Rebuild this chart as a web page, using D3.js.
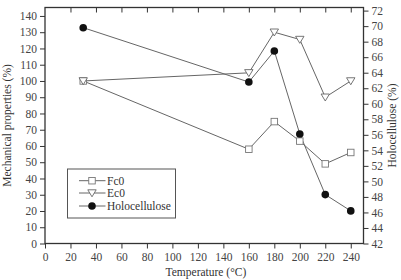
<!DOCTYPE html>
<html><head><meta charset="utf-8">
<script src="https://cdn.jsdelivr.net/npm/d3@7"></script>
<style>body{margin:0;background:#fff}svg{display:block}text{font-family:"Liberation Serif","Times New Roman",serif;fill:#333}</style>
</head><body>
<svg id="c" width="401" height="280"></svg>
<script>
const temps = [30, 160, 180, 200, 220, 240];
const fc0 = [100, 58, 75, 63, 49, 56];
const ec0 = [100, 105, 130, 125.5, 90, 100];
const holo = [69.8, 62.8, 66.8, 56.1, 48.3, 46.2];
const xTicks = [0,20,40,60,80,100,120,140,160,180,200,220,240];
const yLeftTicks = d3.range(0, 141, 10);
const yRightTicks = d3.range(42, 73, 2);

const svg = d3.select("#c");
const L = 45, R = 363.5, T = 7.5, B = 243.5;
const x = d3.scaleLinear().domain([0, 250]).range([L, R]);
const yL = d3.scaleLinear().domain([0, 145.2]).range([B, T]);
const yR = d3.scaleLinear().domain([42, 72.4]).range([B, T]);
const axisCol = "#333", lineCol = "#666";

function styleAxis(g){
  g.select(".domain").remove();
  g.selectAll("line").attr("stroke", axisCol);
  g.selectAll("text").attr("font-size", 11.5).style("fill","#444");
}
svg.append("g").attr("transform",`translate(0,${B})`)
  .call(d3.axisBottom(x).tickValues(xTicks).tickSize(5).tickPadding(4)).call(styleAxis);
svg.append("g").attr("transform",`translate(0,${T})`)
  .call(d3.axisBottom(x).tickValues(xTicks.slice(1)).tickSize(5).tickFormat("")).call(styleAxis);
svg.append("g").attr("transform",`translate(${L},0)`)
  .call(d3.axisLeft(yL).tickValues(yLeftTicks).tickSize(5).tickPadding(3)).call(styleAxis);
svg.append("g").attr("transform",`translate(${R},0)`)
  .call(d3.axisRight(yR).tickValues(yRightTicks).tickSize(5).tickPadding(3)).call(styleAxis);
svg.append("rect").attr("x",L).attr("y",T).attr("width",R-L).attr("height",B-T)
  .attr("fill","none").attr("stroke",axisCol).attr("stroke-width",1.3);

const pts = (vals, ys) => temps.map((t,i)=>[x(t), ys(vals[i])]);
const line = d3.line();
[[fc0,yL],[ec0,yL],[holo,yR]].forEach(([v,s])=>{
  svg.append("path").attr("d", line(pts(v,s))).attr("fill","none").attr("stroke",lineCol).attr("stroke-width",1);
});
const sq = 6.5;
function drawSquare(g,cx,cy){ g.append("rect").attr("x",cx-sq/2).attr("y",cy-sq/2).attr("width",sq).attr("height",sq).attr("fill","#fff").attr("stroke","#777").attr("stroke-width",0.9); }
function drawTri(g,cx,cy){ g.append("path").attr("d",`M${cx-4.2},${cy-3.2}L${cx+4.2},${cy-3.2}L${cx},${cy+3.8}Z`).attr("fill","#fff").attr("stroke","#666").attr("stroke-width",0.9); }
function drawCirc(g,cx,cy){ g.append("circle").attr("cx",cx).attr("cy",cy).attr("r",3.8).attr("fill","#111"); }
pts(fc0,yL).forEach(p=>drawSquare(svg,p[0],p[1]));
pts(ec0,yL).forEach(p=>drawTri(svg,p[0],p[1]));
pts(holo,yR).forEach(p=>drawCirc(svg,p[0],p[1]));

// legend
const leg = svg.append("g");
leg.append("rect").attr("x",67.5).attr("y",169).attr("width",108).attr("height",49).attr("fill","#fff").attr("stroke","#555").attr("stroke-width",1);
const entries = [["Fc0",drawSquare,180.7],["Ec0",drawTri,193],["Holocellulose",drawCirc,206]];
entries.forEach(([name,fn,yy])=>{
  leg.append("line").attr("x1",79).attr("x2",105.5).attr("y1",yy).attr("y2",yy).attr("stroke",lineCol);
  fn(leg,92,yy);
  leg.append("text").attr("x",107).attr("y",yy+4).attr("font-size",11.5).text(name);
});

svg.append("text").attr("x",(x(0)+x(240))/2+8).attr("y",276).attr("text-anchor","middle").attr("font-size",11.5).text("Temperature (°C)");
svg.append("text").attr("transform",`translate(11,${(T+B)/2}) rotate(-90)`).attr("text-anchor","middle").attr("font-size",11.5).text("Mechanical properties (%)");
svg.append("text").attr("transform",`translate(396,${(T+B)/2}) rotate(-90)`).attr("text-anchor","middle").attr("font-size",11.5).text("Holocellulose (%)");
</script>
</body></html>
